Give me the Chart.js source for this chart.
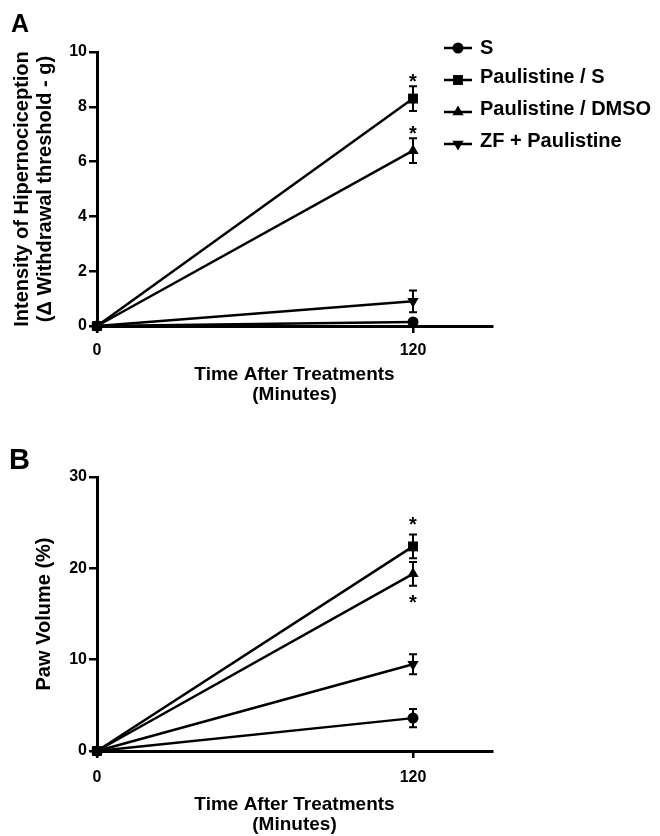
<!DOCTYPE html>
<html>
<head>
<meta charset="utf-8">
<script src="https://cdn.jsdelivr.net/npm/chart.js@4.4.0/dist/chart.umd.min.js"></script>
<style>
body { margin: 0; background: #fff; }
.panel { position: relative; width: 660px; height: 418px; }
.letter { position: absolute; font-family: "Liberation Sans", Arial, sans-serif; font-weight: bold; line-height: 1; }
</style>
</head>
<body>
<div class="panel"><span class="letter" style="left:11px;top:11px;font-size:25px">A</span><canvas id="chartA" width="660" height="418"></canvas></div>
<div class="panel"><span class="letter" style="left:9px;top:27px;font-size:29px">B</span><canvas id="chartB" width="660" height="418"></canvas></div>
<script>
// time points (minutes) and x tick labels
const timePoints = [0, 120]
const xTicks = [0, 120]

const seriesNames = ['S', 'Paulistine / S', 'Paulistine / DMSO', 'ZF + Paulistine']
const pointStyles = ['circle', 'rect', 'triangle', 'triangle']
const pointRotations = [0, 0, 0, 180]
const pointSizes = [5.5, 7, 6.5, 6.5]

// panel A - hypernociception (delta g)
const hyperS = [0, 0.15]
const hyperPS = [0, 8.3]
const hyperPD = [0, 6.4]
const hyperZF = [0, 0.9]
const hyperSErr = [0, 0.1]
const hyperPSErr = [0, 0.45]
const hyperPDErr = [0, 0.45]
const hyperZFErr = [0, 0.4]
const hyperStarX = [120, 120]
const hyperStarY = [9.1, 7.2]

// panel B - paw volume (%)
const pawS = [0, 3.6]
const pawPS = [0, 22.4]
const pawPD = [0, 19.4]
const pawZF = [0, 9.5]
const pawSErr = [0, 1.0]
const pawPSErr = [0, 1.3]
const pawPDErr = [0, 1.3]
const pawZFErr = [0, 1.1]
const pawStarX = [120, 120]
const pawStarY = [25.4, 16.8]

const FONT = '"Liberation Sans", Arial, sans-serif'

function makeDatasets(values, errors) {
    return values.map((vals, i) => ({
        label: seriesNames[i],
        data: vals.map((v, j) => ({x: timePoints[j], y: v})),
        errors: errors[i],
        borderColor: '#000',
        backgroundColor: '#000',
        borderWidth: 2.5,
        pointStyle: pointStyles[i],
        pointRotation: pointRotations[i],
        pointRadius: pointSizes[i],
        pointBorderWidth: 0,
        tension: 0,
        clip: false
    }))
}

// error bars + asterisks, drawn through the chart scales
const errorBars = {
    id: 'errorBars',
    afterDatasetsDraw(chart, args, opts) {
        const ctx = chart.ctx
        const ys = chart.scales.y, xs = chart.scales.x
        ctx.save()
        ctx.strokeStyle = '#000'
        ctx.lineWidth = 2
        chart.data.datasets.forEach((ds, i) => {
            const meta = chart.getDatasetMeta(i)
            ds.data.forEach((p, j) => {
                const e = ds.errors[j]
                if (!e) return
                const x = meta.data[j].x
                const y1 = ys.getPixelForValue(p.y + e)
                const y2 = ys.getPixelForValue(p.y - e)
                ctx.beginPath()
                ctx.moveTo(x, y1); ctx.lineTo(x, y2)
                ctx.moveTo(x - 4, y1); ctx.lineTo(x + 4, y1)
                ctx.moveTo(x - 4, y2); ctx.lineTo(x + 4, y2)
                ctx.stroke()
            })
        })
        ctx.fillStyle = '#000'
        ctx.font = 'bold 20px ' + FONT
        ctx.textAlign = 'center'
        ctx.textBaseline = 'alphabetic'
        opts.starX.forEach((sx, k) => {
            ctx.fillText('*', xs.getPixelForValue(sx), ys.getPixelForValue(opts.starY[k]) + 11.5)
        })
        ctx.restore()
    }
}

// legend with line + marker like the original figure
const lineLegend = {
    id: 'lineLegend',
    afterDraw(chart, args, opts) {
        if (!opts.show) return
        const ctx = chart.ctx
        const x0 = chart.chartArea.right - 48
        ctx.save()
        chart.data.datasets.forEach((ds, i) => {
            const y = 48 + i * 32
            ctx.strokeStyle = '#000'
            ctx.fillStyle = '#000'
            ctx.lineWidth = 2.5
            ctx.beginPath()
            ctx.moveTo(x0, y); ctx.lineTo(x0 + 28, y)
            ctx.stroke()
            Chart.helpers.drawPoint(ctx, {pointStyle: ds.pointStyle, rotation: ds.pointRotation, radius: ds.pointRadius, borderWidth: 0}, x0 + 14, y)
            ctx.font = 'bold 20px ' + FONT
            ctx.textAlign = 'left'
            ctx.textBaseline = 'middle'
            ctx.fillText(ds.label, x0 + 36, i === 0 ? y : y - 3)
        })
        ctx.restore()
    }
}

function makeChart(id, datasets, cfg) {
    return new Chart(document.getElementById(id), {
        type: 'line',
        data: {datasets: datasets},
        plugins: [errorBars, lineLegend],
        options: {
            responsive: false,
            animation: false,
            layout: {padding: {left: 0, top: cfg.top, right: 168, bottom: 0}},
            plugins: {
                legend: {display: false},
                tooltip: {enabled: false},
                errorBars: {starX: cfg.starX, starY: cfg.starY},
                lineLegend: {show: cfg.legend}
            },
            scales: {
                x: {
                    type: 'linear',
                    min: 0,
                    max: 150,
                    afterBuildTicks: (s) => { s.ticks = xTicks.map(v => ({value: v})) },
                    afterFit: (s) => { s.height = cfg.xHeight },
                    grid: {drawOnChartArea: false, tickLength: 7, color: '#000', lineWidth: 2.5},
                    border: {color: '#000', width: 3},
                    ticks: {color: '#000', padding: cfg.xPad, maxRotation: 0, font: {family: FONT, weight: 'bold', size: 16}},
                    title: {
                        display: true,
                        text: ['Time After Treatments', '(Minutes)'],
                        color: '#000',
                        font: {family: FONT, weight: 'bold', size: 19, lineHeight: 1.05},
                        padding: {top: 0, bottom: cfg.xTitlePad}
                    }
                },
                y: {
                    min: 0,
                    max: cfg.yMax,
                    afterFit: (s) => { s.width = 97 },
                    grid: {drawOnChartArea: false, tickLength: 8, color: '#000', lineWidth: 2.5},
                    border: {color: '#000', width: 3},
                    ticks: {stepSize: cfg.yStep, color: '#000', padding: 2, font: {family: FONT, weight: 'bold', size: 16}},
                    title: {
                        display: true,
                        text: cfg.yTitle,
                        color: '#000',
                        font: {family: FONT, weight: 'bold', size: 20, lineHeight: 1.15},
                        padding: {top: cfg.yTitlePad, bottom: 0}
                    }
                }
            }
        }
    })
}

makeChart('chartA',
    makeDatasets([hyperS, hyperPS, hyperPD, hyperZF], [hyperSErr, hyperPSErr, hyperPDErr, hyperZFErr]),
    {top: 52, xHeight: 92, xPad: 8, xTitlePad: 13, yMax: 10, yStep: 2,
     yTitle: ['Intensity of Hipernociception', '(\u0394 Withdrawal threshold - g)'], yTitlePad: 10.5,
     starX: hyperStarX, starY: hyperStarY, legend: true})

makeChart('chartB',
    makeDatasets([pawS, pawPS, pawPD, pawZF], [pawSErr, pawPSErr, pawPDErr, pawZFErr]),
    {top: 59, xHeight: 85, xPad: 10, xTitlePad: 1, yMax: 30, yStep: 10,
     yTitle: 'Paw Volume (%)', yTitlePad: 32.5,
     starX: pawStarX, starY: pawStarY, legend: false})
</script>
</body>
</html>
